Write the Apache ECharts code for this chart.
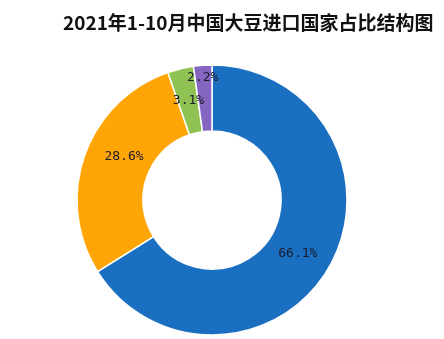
<!DOCTYPE html>
<html>
<head>
<meta charset="utf-8">
<script src="https://cdn.jsdelivr.net/npm/echarts@6/dist/echarts.min.js"></script>
<style>
html,body{margin:0;padding:0;background:#fff;}
#c{width:444px;height:339px;}
</style>
</head>
<body>
<div id="c"></div>
<script>
const titleText = "2021年1-10月中国大豆进口国家占比结构图";
const categories = ["国家A", "国家B", "国家C", "国家D"];
const values = [66.1, 28.6, 3.1, 2.2];
const colors = ["#1b6fc0", "#ffa505", "#8fc252", "#8466c0"];
const labelOffsets = [[-6, 3], [11, -8], [1, 3], [-2, -18]];

const chart = echarts.init(document.getElementById('c'), null, {renderer: 'canvas'});
chart.setOption({
  animation: false,
  backgroundColor: '#ffffff',
  title: {
    text: titleText,
    left: 58,
    top: 8,
    textStyle: {fontFamily: 'Noto Sans CJK SC', fontWeight: 'bold', fontSize: 19, color: '#111'}
  },
  series: [{
    type: 'pie',
    center: [212, 200],
    radius: [69, 135],
    startAngle: 90,
    clockwise: true,
    avoidLabelOverlap: false,
    labelLayout: {hideOverlap: false},
    data: categories.map((n, i) => ({
      name: n, value: values[i],
      itemStyle: {color: colors[i]},
      label: {offset: labelOffsets[i]}
    })),
    itemStyle: {borderColor: '#ffffff', borderWidth: 1.5},
    label: {
      show: true,
      position: 'inside',
      formatter: p => p.value.toFixed(1) + '%',
      fontFamily: 'DejaVu Sans Mono',
      fontSize: 13,
      color: '#1a1a2a'
    },
    labelLine: {show: false},
    emphasis: {disabled: true}
  }]
});
</script>
</body>
</html>
